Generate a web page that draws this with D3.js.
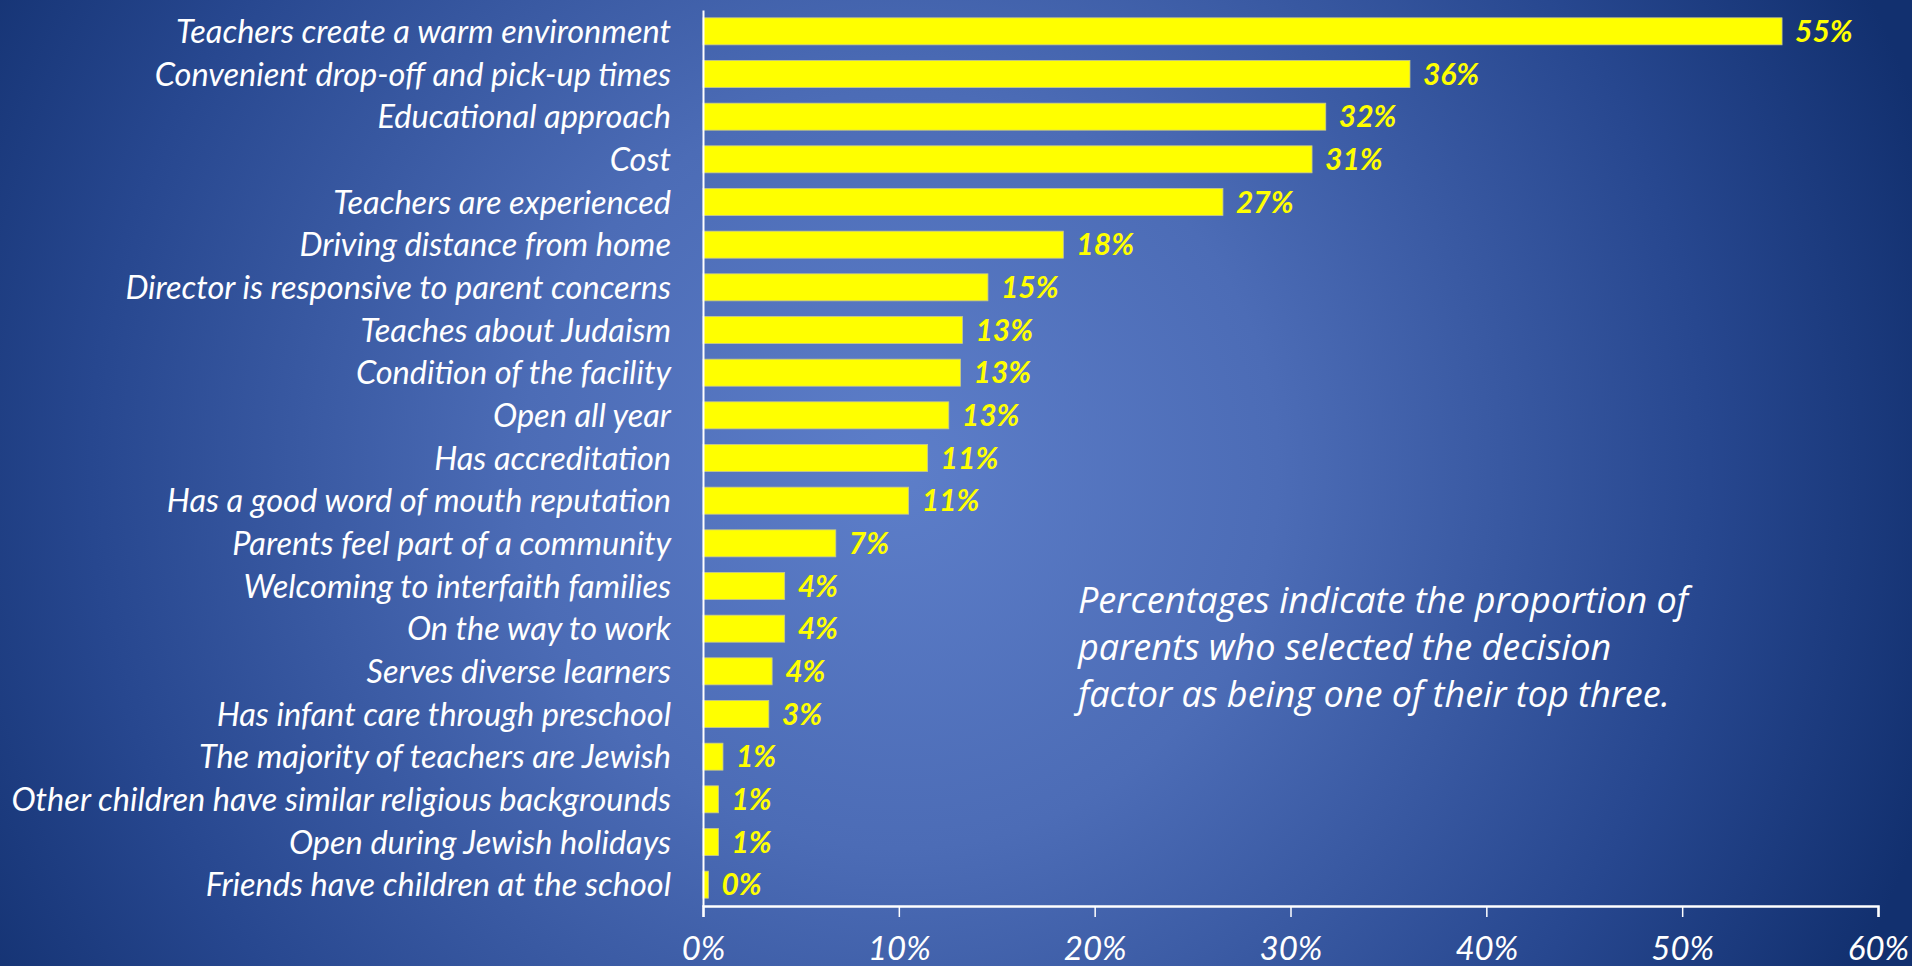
<!DOCTYPE html>
<html>
<head>
<meta charset="utf-8">
<script src="https://cdn.jsdelivr.net/npm/d3@7/dist/d3.min.js"></script>
<style>
  html, body { margin: 0; padding: 0; overflow: hidden; background: #163778; }
  svg { display: block; }
</style>
</head>
<body>
<svg id="chart" width="1912" height="966"></svg>
<script>
// ---- data ----
const categories = [
  "Teachers create a warm environment",
  "Convenient drop-off and pick-up times",
  "Educational approach",
  "Cost",
  "Teachers are experienced",
  "Driving distance from home",
  "Director is responsive to parent concerns",
  "Teaches about Judaism",
  "Condition of the facility",
  "Open all year",
  "Has accreditation",
  "Has a good word of mouth reputation",
  "Parents feel part of a community",
  "Welcoming to interfaith families",
  "On the way to work",
  "Serves diverse learners",
  "Has infant care through preschool",
  "The majority of teachers are Jewish",
  "Other children have similar religious backgrounds",
  "Open during Jewish holidays",
  "Friends have children at the school"
];
const values = [55.1, 36.1, 31.8, 31.1, 26.55, 18.4, 14.55, 13.25, 13.15, 12.55, 11.47, 10.5, 6.78, 4.17, 4.17, 3.53, 3.36, 1.02, 0.79, 0.79, 0.28];
const valueLabels = ["55%", "36%", "32%", "31%", "27%", "18%", "15%", "13%", "13%", "13%", "11%", "11%", "7%", "4%", "4%", "4%", "3%", "1%", "1%", "1%", "0%"];
const tickValues = [0, 10, 20, 30, 40, 50, 60];
const tickLabels = ["0%", "10%", "20%", "30%", "40%", "50%", "60%"];
const noteLines = [
  "Percentages indicate the proportion of",
  "parents who selected the decision",
  "factor as being one of their top three."
];

// ---- layout ----
const W = 1912, H = 966;
const svg = d3.select("#chart");

const defs = svg.append("defs");
const grad = defs.append("radialGradient")
  .attr("id", "bg")
  .attr("gradientUnits", "userSpaceOnUse")
  .attr("cx", 900).attr("cy", 470).attr("r", 1080);
grad.append("stop").attr("offset", "0%").attr("stop-color", "#5d7ec9");
grad.append("stop").attr("offset", "35%").attr("stop-color", "#4c6cb6");
grad.append("stop").attr("offset", "75%").attr("stop-color", "#27478f");
grad.append("stop").attr("offset", "100%").attr("stop-color", "#12306f");
svg.append("rect").attr("width", W).attr("height", H).attr("fill", "url(#bg)");

const x = d3.scaleLinear().domain([0, 60]).range([703, 1878]);
const y = d3.scaleBand().domain(categories).range([10, 906])
  .paddingInner(0.367).paddingOuter(0.1835);

const data = categories.map((c, i) => ({ c, v: values[i], l: valueLabels[i] }));

// bars
svg.append("g").selectAll("rect").data(data).join("rect")
  .attr("x", x(0))
  .attr("y", d => y(d.c))
  .attr("width", d => x(d.v) - x(0))
  .attr("height", y.bandwidth())
  .attr("fill", "#ffff00")
  .attr("stroke", "#c8c890")
  .attr("stroke-width", 0.8);

// value labels
svg.append("g").selectAll("text").data(data).join("text")
  .attr("x", d => x(d.v) + 13)
  .attr("y", d => y(d.c) + y.bandwidth() / 2)
  .attr("dy", "0.36em")
  .attr("fill", "#ffff00")
  .attr("font-family", "Lato, 'Open Sans', sans-serif")
  .attr("font-style", "italic")
  .attr("font-weight", "bold")
  .attr("font-size", 30)
  .text(d => d.l);

// category labels
svg.append("g").selectAll("text").data(data).join("text")
  .attr("x", 671)
  .attr("y", d => y(d.c) + y.bandwidth() / 2)
  .attr("dy", "0.36em")
  .attr("text-anchor", "end")
  .attr("fill", "#ffffff")
  .attr("font-family", "Lato, 'Open Sans', sans-serif")
  .attr("font-style", "italic")
  .attr("font-size", 32.5)
  .text(d => d.c);

// y axis line
const yAxis = svg.append("g").attr("transform", `translate(${x(0)},0)`)
  .call(d3.axisLeft(y).tickSize(0).tickFormat(""));
yAxis.select(".domain").attr("stroke", "#ffffff").attr("stroke-width", 2);

// x axis
const xAxis = svg.append("g").attr("transform", `translate(0,906)`)
  .call(d3.axisBottom(x).tickValues(tickValues).tickSize(11).tickSizeOuter(11)
    .tickFormat((d, i) => tickLabels[i]).tickPadding(20));
xAxis.select(".domain").attr("stroke", "#ffffff").attr("stroke-width", 2.5);
xAxis.selectAll(".tick line").attr("stroke", "#ffffff").attr("stroke-width", 1.5);
xAxis.selectAll(".tick text")
  .attr("fill", "#ffffff")
  .attr("font-family", "Lato, 'Open Sans', sans-serif")
  .attr("font-style", "italic")
  .attr("font-size", 33);

// note
svg.append("g").selectAll("text").data(noteLines).join("text")
  .attr("x", 1078)
  .attr("y", (d, i) => 613 + i * 47)
  .attr("fill", "#ffffff")
  .attr("font-family", "'Open Sans', sans-serif")
  .attr("font-style", "italic")
  .attr("font-size", 36)
  .text(d => d);
</script>
</body>
</html>
